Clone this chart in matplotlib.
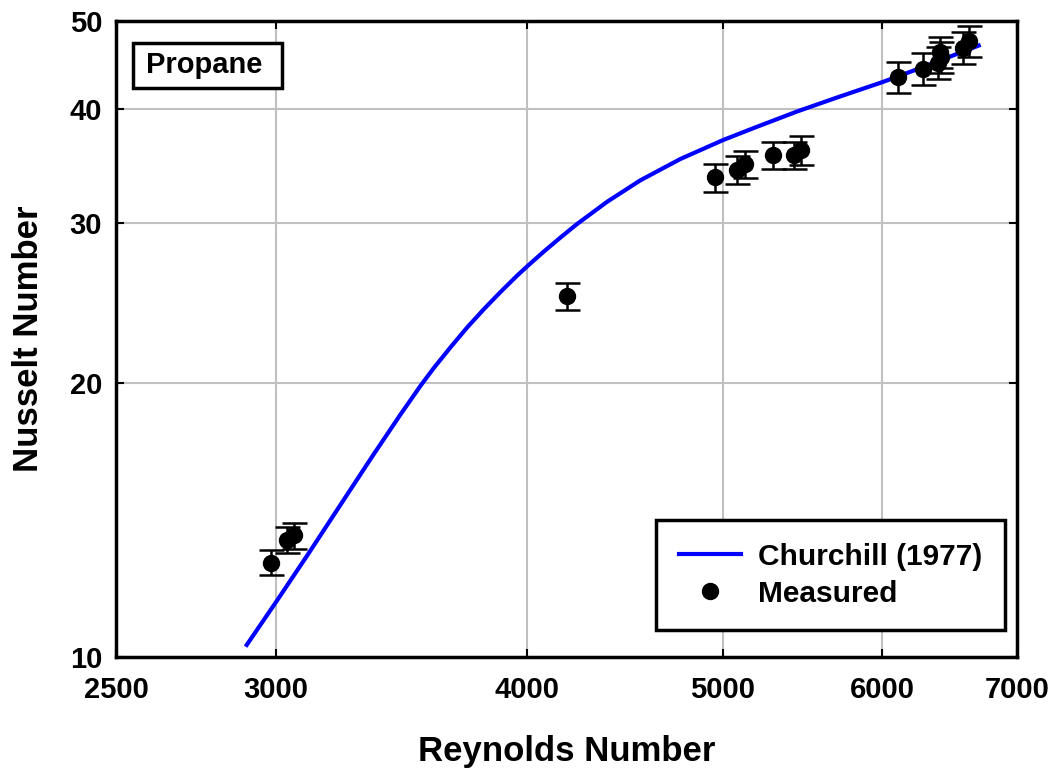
import numpy as np
import matplotlib
matplotlib.use('Agg')
import matplotlib.pyplot as plt
import matplotlib.ticker as mticker
from matplotlib.patches import Rectangle

plt.rcParams['font.family'] = ['Liberation Sans', 'DejaVu Sans']
plt.rcParams['font.weight'] = 'bold'

# Churchill (1977) correlation
re_curve = [2903, 3004, 3113, 3232, 3356, 3461, 3541, 3595, 3665, 3735, 3807, 3880,
            3954, 4004, 4076, 4155, 4235, 4382, 4552, 4765, 5003, 5181, 5444,
            5698, 6002, 6266, 6700]
nu_curve = [10.31, 11.52, 12.96, 14.71, 16.70, 18.48, 19.87, 20.78, 21.91, 23.03, 24.12, 25.19,
            26.25, 26.93, 27.89, 28.91, 29.92, 31.64, 33.41, 35.26, 36.99, 38.13, 39.76,
            41.19, 42.83, 44.37, 46.98]

# measured points with error bars
re_meas = [2984, 3041, 3064, 4188, 4957, 5084, 5132, 5297, 5427, 5469,
           6113, 6286, 6395, 6420, 6410, 6579, 6629]
nu_meas = [12.7, 13.45, 13.6, 24.9, 33.65, 34.3, 34.8, 35.6, 35.6, 36.05,
           43.4, 44.3, 45.0, 45.6, 46.2, 46.7, 47.5]
nu_err = [0.4, 0.45, 0.45, 0.85, 1.2, 1.2, 1.2, 1.25, 1.25, 1.3,
          1.7, 1.8, 1.8, 1.8, 1.8, 1.9, 1.9]

x_ticks = [2500, 3000, 4000, 5000, 6000, 7000]
y_ticks = [10, 20, 30, 40, 50]

fig = plt.figure(figsize=(10.57, 7.70), dpi=100)
ax = fig.add_axes([0.1097, 0.1468, 0.8525, 0.826])

ax.set_xscale('log')
ax.set_yscale('log')

ax.plot(re_curve, nu_curve, color='#0000FF', linewidth=3, label='Churchill (1977)',
        solid_joinstyle='round', zorder=3)
ax.errorbar(re_meas, nu_meas, yerr=nu_err, fmt='none', ecolor='black',
            elinewidth=1.8, capsize=9, capthick=1.8, zorder=4)
ax.plot(re_meas, nu_meas, 'o', color='black', markersize=11.5, label='Measured', zorder=5)

ax.set_xlim(2500, 7000)
ax.set_ylim(10, 50)
ax.set_xticks(x_ticks)
ax.set_xticklabels([str(v) for v in x_ticks])
ax.set_yticks(y_ticks)
ax.set_yticklabels([str(v) for v in y_ticks])
ax.xaxis.set_minor_locator(mticker.NullLocator())
ax.yaxis.set_minor_locator(mticker.NullLocator())

ax.tick_params(axis='both', which='major', direction='in', length=6, width=1.5,
               top=True, right=True, labelsize=21)
ax.tick_params(axis='x', pad=14)
ax.tick_params(axis='y', pad=10)
for sp in ax.spines.values():
    sp.set_linewidth(2.5)

ax.grid(True, color='#c0c0c0', linewidth=1.5)
ax.set_axisbelow(True)

ax.set_xlabel('Reynolds Number', fontsize=25, fontweight='bold', labelpad=22)
ax.set_ylabel('Nusselt Number', fontsize=25, fontweight='bold', labelpad=18)

# "Propane" tag in a plain box
ax.add_patch(Rectangle((0.0189, 0.8947), 0.1653, 0.0708, transform=ax.transAxes,
                       facecolor='white', edgecolor='black', linewidth=2.5, zorder=6))
ax.text(0.0333, 0.9308, 'Propane', transform=ax.transAxes, fontsize=21,
        fontweight='bold', va='center', ha='left', zorder=7)

leg = ax.legend(loc='lower right', bbox_to_anchor=(0.9867, 0.0425), borderaxespad=0,
                fontsize=21.5, fancybox=False, edgecolor='black', framealpha=1,
                handlelength=2.1, handletextpad=0.57, borderpad=0.75,
                labelspacing=0.3)
leg.get_frame().set_linewidth(2.5)

plt.savefig('out.png', dpi=100)
plt.close()
